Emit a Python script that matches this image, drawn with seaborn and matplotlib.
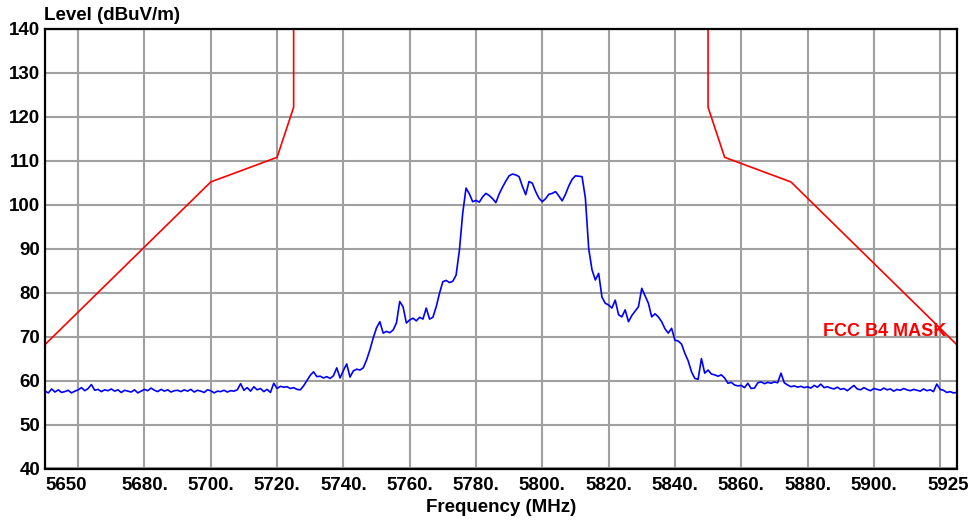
import numpy as np
import pandas as pd
import matplotlib
matplotlib.use("Agg")
from matplotlib import pyplot as plt
import seaborn as sns

freq_start = 5650
level = [
    57.6, 57.2, 58.1, 57.4, 57.9, 57.3, 57.5, 57.8, 57.2, 57.6,
    57.9, 58.4, 57.7, 58.2, 59.1, 57.8, 58.0, 57.5, 57.9, 57.7,
    58.1, 57.6, 57.9, 57.3, 57.8, 57.6, 57.4, 57.9, 57.2, 57.6,
    58.0, 57.7, 58.3, 57.8, 57.5, 58.0, 57.6, 57.9, 57.4, 57.7,
    57.8, 57.5, 57.9, 57.6, 58.0, 57.4, 57.8, 57.6, 57.3, 57.9,
    57.7, 57.2, 57.6, 57.5, 57.8, 57.4, 57.7, 57.6, 57.9, 59.3,
    57.8, 58.4, 57.6, 58.6, 57.9, 58.2, 57.5, 58.0, 57.3, 59.4,
    58.2, 58.7, 58.5, 58.6, 58.2, 58.4, 58.0, 57.9, 58.8, 60.0,
    61.2, 62.0, 60.9, 61.0, 60.6, 60.9, 60.5, 61.1, 62.9, 60.6,
    62.3, 63.8, 60.8, 62.2, 62.6, 62.4, 62.9, 64.7, 67.0, 69.7,
    72.0, 73.4, 70.8, 71.2, 70.9, 71.5, 73.1, 78.0, 76.8, 73.1,
    73.8, 74.2, 73.6, 74.4, 74.0, 76.5, 74.0, 74.4, 76.8, 79.9,
    82.5, 82.8, 82.3, 82.6, 84.0, 89.7, 98.1, 103.8, 102.5, 100.7,
    101.0, 100.6, 101.8, 102.6, 102.1, 101.4, 100.5, 102.5, 104.0, 105.4,
    106.6, 107.0, 106.8, 106.4, 104.2, 102.3, 105.3, 104.9, 103.0, 101.5,
    100.7, 101.4, 102.4, 102.6, 103.0, 102.0, 100.9, 102.4, 104.3, 105.8,
    106.6, 106.5, 106.4, 101.5, 90.0, 85.2, 82.9, 84.4, 79.0, 77.6,
    77.2, 76.5, 78.3, 75.0, 74.5, 76.1, 73.4, 74.8, 75.8, 76.8,
    81.0, 79.3, 77.6, 74.5, 75.2, 74.5, 73.4, 71.8, 70.8, 71.9,
    69.2, 69.0, 68.3, 66.2, 64.5, 62.0, 60.5, 60.3, 65.0, 61.7,
    62.4, 61.5, 61.3, 61.0, 61.3, 60.6, 59.4, 59.6, 59.0, 58.8,
    58.9, 58.4, 59.4, 58.2, 58.3, 59.5, 59.7, 59.3, 59.6, 59.4,
    59.7, 59.5, 61.7, 59.5, 59.0, 58.6, 58.8, 58.5, 58.7, 58.4,
    58.6, 58.3, 58.9, 58.5, 59.2, 58.4, 58.6, 58.3, 58.1, 58.5,
    58.0, 58.2, 57.7, 58.3, 58.9, 58.1, 57.9, 58.4, 58.0, 57.7,
    58.2, 58.0, 57.8, 58.3, 57.9, 58.1, 57.6, 58.0, 57.8, 58.2,
    57.9, 57.7, 58.0, 57.8, 57.6, 58.1, 57.7, 57.9, 57.5, 59.2,
    58.0, 57.8, 57.3, 57.5, 57.2, 57.3,
]
freq = np.arange(freq_start, freq_start + len(level))

# FCC band 4 emission mask
mask_left_f = [5650, 5700, 5720, 5725, 5725]
mask_left_l = [68.2, 105.2, 110.8, 122.2, 140]
mask_right_f = [5850, 5850, 5855, 5875, 5925]
mask_right_l = [140, 122.2, 110.8, 105.2, 68.2]

# axis labels
grid_f = list(range(5660, 5921, 20))
tick_f = [5656.5, 5680, 5700, 5720, 5740, 5760, 5780, 5800, 5820, 5840, 5860, 5880, 5900, 5922.5]
tick_labels = ["5650", "5680.", "5700.", "5720.", "5740.", "5760.", "5780.", "5800.",
               "5820.", "5840.", "5860.", "5880.", "5900.", "5925"]
y_ticks = list(range(40, 141, 10))

sns.set_style("white")
plt.rcParams["font.family"] = ["Liberation Sans", "DejaVu Sans"]
plt.rcParams["font.weight"] = "bold"

fig = plt.figure(figsize=(9.77, 5.26), dpi=100)
ax = fig.add_axes([45 / 977, 1 - 468.5 / 526, (956.7 - 45) / 977, (468.5 - 29) / 526])

trace = pd.DataFrame({"f": freq, "level": level})
sns.lineplot(data=trace, x="f", y="level", ax=ax, color="#0000ff", linewidth=1.2,
             estimator=None, sort=False)
sns.lineplot(x=mask_left_f, y=mask_left_l, ax=ax, color="#ff0000", linewidth=1.2,
             estimator=None, sort=False)
sns.lineplot(x=mask_right_f, y=mask_right_l, ax=ax, color="#ff0000", linewidth=1.2,
             estimator=None, sort=False)

ax.set_xlim(5650, 5925)
ax.set_ylim(40, 140)

# gridlines on minor x ticks, labels on major
ax.xaxis.remove_overlapping_locs = False
ax.set_xticks(tick_f)
ax.set_xticklabels(tick_labels)
ax.set_xticks(grid_f, minor=True)
ax.set_yticks(y_ticks)
ax.grid(False)
ax.grid(True, axis="x", which="minor", color="#a0a0a0", linewidth=1.5)
ax.grid(True, axis="y", which="major", color="#a0a0a0", linewidth=1.5)
ax.set_axisbelow(True)
ax.tick_params(axis="both", which="both", length=0, labelsize=13.5, colors="black")
ax.tick_params(axis="x", pad=6)
ax.tick_params(axis="y", pad=3.5)
for lab in ax.get_xticklabels() + ax.get_yticklabels():
    lab.set_fontweight("bold")
for s in ax.spines.values():
    s.set_color("black")
    s.set_linewidth(1.6)

ax.set_xlabel("")
ax.set_ylabel("")
fig.text(44 / 977, 1 - 15.5 / 526, "Level (dBuV/m)", fontsize=13.5, fontweight="bold",
         ha="left", va="center", color="black")
fig.text(500.8 / 977, 1 - 508 / 526, "Frequency (MHz)", fontsize=13.5, fontweight="bold",
         ha="center", va="center", color="black")
ax.text(5884.7, 71.1, "FCC B4 MASK", fontsize=13, fontweight="bold", color="#ff0000",
        ha="left", va="center")

fig.savefig("out.png", dpi=100)
